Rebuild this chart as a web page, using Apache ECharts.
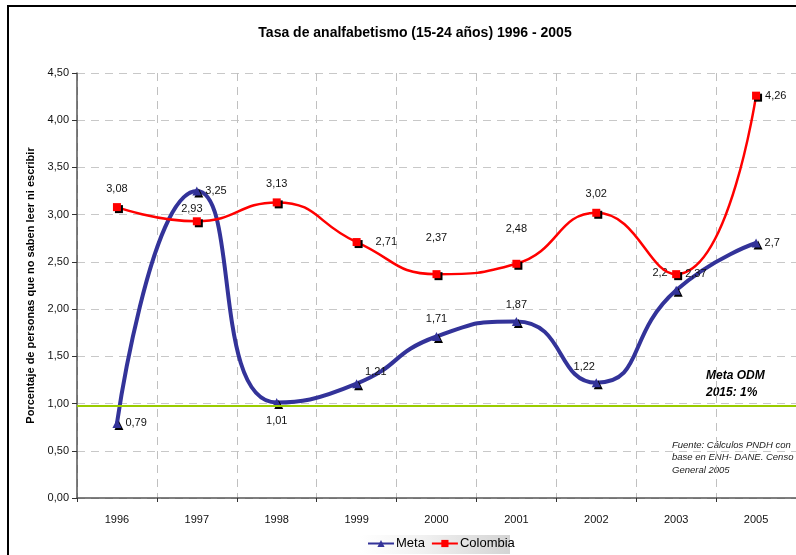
<!DOCTYPE html>
<html>
<head>
<meta charset="utf-8">
<script src="https://cdn.jsdelivr.net/npm/echarts@6/dist/echarts.min.js"></script>
<style>
  html, body { margin: 0; padding: 0; background: #fff; }
  #main { width: 796px; height: 555px; }
</style>
</head>
<body>
<div id="main"></div>
<script>
// data
var years = ['1996', '1997', '1998', '1999', '2000', '2001', '2002', '2003', '2005'];
var meta = [0.79, 3.25, 1.01, 1.21, 1.71, 1.87, 1.22, 2.2, 2.7];
var colombia = [3.08, 2.93, 3.13, 2.71, 2.37, 2.48, 3.02, 2.37, 4.26];
var metaOdm = 0.98;

function comma(v) {
  return String(v).replace('.', ',');
}

// label placement per point (position, offset)
var metaLabels = [
  ['right', [0, 0]], ['right', [0, 0]], ['bottom', [0, 4]], ['right', [0, -12]],
  ['top', [0, -4]], ['top', [0, -2]], ['top', [-12, -2]], ['left', [0, -17]], ['right', [0, 0]]
];
var colLabels = [
  ['top', [0, -4]], ['top', [-5, 2]], ['top', [0, -4]], ['right', [10, 0]],
  ['top', [0, -22]], ['top', [0, -20]], ['top', [0, -4]], ['right', [0, 0]], ['right', [0, 0]]
];

function withLabels(values, pos) {
  return values.map(function (v, i) {
    return { value: v, label: { position: pos[i][0], offset: pos[i][1] } };
  });
}

var chart = echarts.init(document.getElementById('main'));
var font = 'Liberation Sans, Arial, sans-serif';

var option = {
  animation: false,
  textStyle: { fontFamily: font },
  title: {
    text: 'Tasa de analfabetismo (15-24 años) 1996 - 2005',
    left: 410,
    top: 21,
    textAlign: 'center',
    textStyle: { fontSize: 14, fontWeight: 'bold', color: '#000', fontFamily: font }
  },
  grid: { left: 77, top: 73, width: 722, height: 425 },
  legend: {
    left: 367,
    top: 537,
    padding: 0,
    itemWidth: 26,
    itemHeight: 9,
    itemGap: 6,
    textStyle: { fontSize: 13, color: '#000', fontFamily: font, padding: [0, 0, 0, -3] },
    data: ['Meta', 'Colombia']
  },
  xAxis: {
    type: 'category',
    data: years,
    boundaryGap: true,
    axisLine: { lineStyle: { color: '#555', width: 1.5 } },
    axisTick: { show: true, length: 4, lineStyle: { color: '#333' } },
    axisLabel: { fontSize: 11, color: '#111', margin: 16 },
    splitLine: { show: true, lineStyle: { color: '#c0c0c0', type: [8, 6] } }
  },
  yAxis: {
    type: 'value',
    min: 0,
    max: 4.5,
    interval: 0.5,
    name: 'Porcentaje de personas que no saben leer ni escribir',
    nameLocation: 'middle',
    nameRotate: 90,
    nameGap: 38,
    nameTextStyle: { fontSize: 11, fontWeight: 'bold', color: '#000' },
    axisLine: { show: true, lineStyle: { color: '#555', width: 1.5 } },
    axisTick: { show: true, length: 5, lineStyle: { color: '#333' } },
    axisLabel: {
      fontSize: 11, color: '#111', margin: 8,
      formatter: function (v) { return v.toFixed(2).replace('.', ','); }
    },
    splitLine: { show: true, lineStyle: { color: '#c8c8c8', type: [8, 6] } }
  },
  series: [
    {
      name: 'Meta',
      type: 'line',
      data: withLabels(meta, metaLabels),
      smooth: 0.55,
      symbol: 'triangle',
      symbolSize: 9,
      lineStyle: { color: '#333399', width: 4 },
      itemStyle: {
        color: '#333399',
        shadowColor: '#000', shadowBlur: 0, shadowOffsetX: 2, shadowOffsetY: 2
      },
      label: {
        show: true, fontSize: 11, color: '#111', distance: 4,
        formatter: function (p) { return comma(p.value); }
      },
      markLine: {
        silent: true,
        symbol: 'none',
        label: { show: false },
        lineStyle: { color: '#99cc00', width: 2, type: 'solid' },
        data: [{ yAxis: metaOdm }]
      },
      z: 3
    },
    {
      name: 'Colombia',
      type: 'line',
      data: withLabels(colombia, colLabels),
      smooth: 0.5,
      symbol: 'rect',
      symbolSize: 8,
      lineStyle: { color: '#ff0000', width: 2.5 },
      itemStyle: {
        color: '#ff0000',
        shadowColor: '#000', shadowBlur: 0, shadowOffsetX: 2, shadowOffsetY: 2
      },
      label: {
        show: true, fontSize: 11, color: '#111', distance: 5,
        formatter: function (p) { return comma(p.value); }
      },
      z: 4
    }
  ],
  graphic: [
    {
      type: 'rect',
      shape: { x: 8, y: 6, width: 800, height: 560 },
      style: { fill: null, stroke: '#000', lineWidth: 2 },
      silent: true,
      z: -10
    },
    {
      type: 'rect',
      shape: { x: 360, y: 535, width: 150, height: 19 },
      style: {
        fill: new echarts.graphic.LinearGradient(0, 0, 1, 0, [
          { offset: 0, color: '#ffffff' },
          { offset: 0.4, color: '#f2f2f2' },
          { offset: 1, color: '#d4d4d4' }
        ])
      },
      silent: true,
      z: -5
    },
    {
      type: 'text',
      left: 706,
      top: 367,
      style: {
        text: 'Meta ODM\n2015: 1%',
        font: 'italic bold 12px ' + font,
        fill: '#000',
        lineHeight: 17
      }
    },
    {
      type: 'text',
      left: 672,
      top: 439,
      style: {
        text: 'Fuente: Cálculos PNDH con\nbase en ENH- DANE. Censo\nGeneral 2005',
        font: 'italic 9.5px ' + font,
        fill: '#222',
        lineHeight: 12.5
      }
    }
  ]
};

chart.setOption(option);
</script>
</body>
</html>
